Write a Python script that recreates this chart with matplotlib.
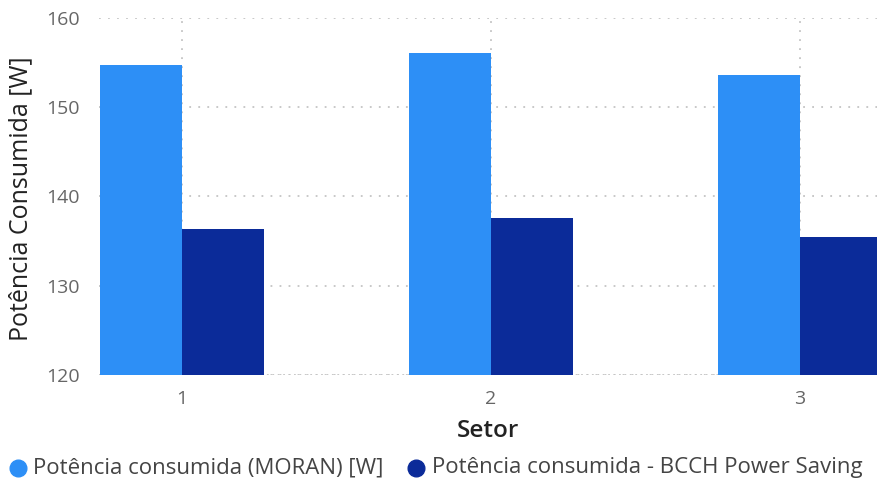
import matplotlib
matplotlib.use("Agg")
import matplotlib.pyplot as plt
from matplotlib.lines import Line2D

# ---------------------------------------------------------------------------
# Data
# ---------------------------------------------------------------------------
setores = [1, 2, 3]
moran = [154.7, 156.1, 153.6]
bcch = [136.4, 137.6, 135.5]
labels = ["Potência consumida (MORAN) [W]", "Potência consumida - BCCH Power Saving"]

COLOR_LIGHT = "#2D8FF6"
COLOR_DARK = "#0B2B99"
GRID = "#C4C4C4"
TICK = "#666666"

plt.rcParams["font.family"] = ["Open Sans", "DejaVu Sans"]

W_PX, H_PX = 877, 486
fig = plt.figure(figsize=(W_PX / 100, H_PX / 100), dpi=100)
ax = fig.add_axes([0.1129, 0.2284, 0.8871, 0.7346])

w = 0.265
ax.bar([s - w / 2 for s in setores], moran, width=w, color=COLOR_LIGHT, zorder=3)
ax.bar([s + w / 2 for s in setores], bcch, width=w, color=COLOR_DARK, zorder=3)

ax.set_ylim(120, 160)
ax.set_xlim(0.731, 3.249)
ax.set_yticks([120, 130, 140, 150, 160])
ax.set_xticks(setores)
ax.set_xticklabels([str(s) for s in setores])

ax.grid(True, axis="both", linestyle=(0, (1, 4)), color=GRID, linewidth=1.3, zorder=0)
for sp in ax.spines.values():
    sp.set_visible(False)
ax.axhline(120, linestyle=(0, (1, 2)), color=GRID, linewidth=1.3, zorder=1)
ax.tick_params(axis="both", length=0, labelsize=14, colors=TICK)
ax.tick_params(axis="y", pad=14)
ax.tick_params(axis="x", pad=11)

ax.set_ylabel("Potência Consumida [W]", fontsize=18, color="#222222")
ax.yaxis.set_label_coords(-0.085, 0.493)
ax.set_xlabel("Setor", fontsize=17.5, color="#222222", fontweight="semibold", labelpad=8)

# legend row (Power BI style: dot + label)
leg_y = 1 - 468 / H_PX
for (cx, tx), color, label in zip([(18, 33), (416, 432)], [COLOR_LIGHT, COLOR_DARK], labels):
    fig.add_artist(Line2D([cx / W_PX], [leg_y], transform=fig.transFigure, marker="o",
                          markersize=12, color=color, linestyle="none"))
    fig.text(tx / W_PX, leg_y, label, fontsize=16, color="#444444", va="center", ha="left")

fig.savefig("out.png", dpi=100)
